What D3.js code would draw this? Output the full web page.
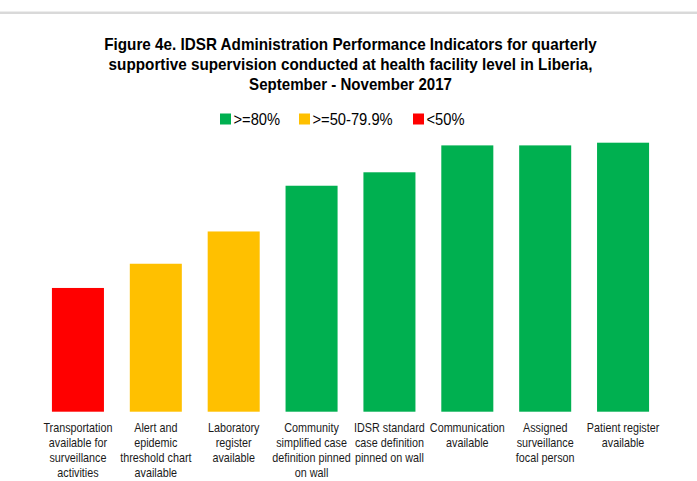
<!DOCTYPE html>
<html>
<head>
<meta charset="utf-8">
<script src="https://cdn.jsdelivr.net/npm/d3@7"></script>
<style>
  body { margin: 0; background: #fff; }
  text { font-family: "Liberation Sans", Arial, sans-serif; }
</style>
</head>
<body>
<div class="chart"></div>
<script>
var svgWidth = 697;
var svgHeight = 481;

// chart data
var categories = [
  ["Transportation", "available for", "surveillance", "activities"],
  ["Alert and", "epidemic", "threshold chart", "available"],
  ["Laboratory", "register", "available"],
  ["Community", "simplified case", "definition pinned", "on wall"],
  ["IDSR standard", "case definition", "pinned on wall"],
  ["Communication", "available"],
  ["Assigned", "surveillance", "focal person"],
  ["Patient register", "available"]
];
var values = [46, 55, 67, 84, 89, 99, 99, 100];

var legendLabels = [">=80%", ">=50-79.9%", "<50%"];
var legendColors = ["#00b050", "#ffc000", "#ff0000"];

var titleLines = [
  "Figure 4e. IDSR Administration Performance Indicators for quarterly",
  "supportive supervision conducted at health facility level in Liberia,",
  "September - November 2017"
];

// narrow font look: squeeze liberation sans horizontally
var narrow = 0.83;

function barColor(v) {
  if (v >= 80) return legendColors[0];
  if (v >= 50) return legendColors[1];
  return legendColors[2];
}

var svg = d3.select(".chart")
  .append("svg")
  .attr("width", svgWidth)
  .attr("height", svgHeight);

// thin grey frame line at top
svg.append("rect")
  .attr("x", 0).attr("y", 11)
  .attr("width", svgWidth).attr("height", 1)
  .attr("fill", "#ededed");
svg.append("rect")
  .attr("x", 0).attr("y", 12)
  .attr("width", svgWidth).attr("height", 2)
  .attr("fill", "#d9d9d9");

// title, squeezed to the narrow width of the original
var title = svg.append("g").selectAll("text")
  .data(titleLines)
  .enter()
  .append("text")
  .attr("text-anchor", "middle")
  .attr("font-size", "17px")
  .attr("font-weight", "bold")
  .attr("fill", "#000")
  .text(d => d);
title.attr("transform", function(d, i) {
  var w = this.getComputedTextLength();
  var target = [493, 484, 203][i];
  return `translate(350.5, ${49.5 + i * 20.3}) scale(${target / w}, 1)`;
});

// legend
var legendX = [220, 299, 413];
var legend = svg.append("g");
legendLabels.forEach(function(lab, i) {
  legend.append("rect")
    .attr("x", legendX[i]).attr("y", 113.5)
    .attr("width", 11).attr("height", 11)
    .attr("fill", legendColors[i]);
  legend.append("text")
    .attr("transform", `translate(${legendX[i] + 13.5}, 124.5) scale(0.92, 1)`)
    .attr("font-size", "16px")
    .attr("fill", "#000")
    .text(lab);
});

// scales
var xScale = d3.scaleBand()
  .domain(d3.range(categories.length))
  .range([39, 662])
  .paddingInner(0.332)
  .paddingOuter(0.166);

var yScale = d3.scaleLinear()
  .domain([0, 100])
  .range([411.7, 142.7]);

// bars
svg.append("g").selectAll("rect")
  .data(values)
  .enter()
  .append("rect")
  .attr("x", (d, i) => xScale(i))
  .attr("y", d => yScale(d))
  .attr("width", xScale.bandwidth())
  .attr("height", d => yScale(0) - yScale(d))
  .attr("fill", d => barColor(d));

// category labels
var labelGroup = svg.append("g");
categories.forEach(function(lines, i) {
  var cx = xScale(i) + xScale.bandwidth() / 2;
  labelGroup.append("text")
    .attr("transform", `translate(${cx}, 0) scale(${narrow}, 1)`)
    .attr("text-anchor", "middle")
    .attr("font-size", "13px")
    .attr("fill", "#1a1a1a")
    .selectAll("tspan")
    .data(lines)
    .enter()
    .append("tspan")
    .attr("x", 0)
    .attr("y", (d, j) => 432.3 + j * 15)
    .text(d => d);
});
</script>
</body>
</html>
